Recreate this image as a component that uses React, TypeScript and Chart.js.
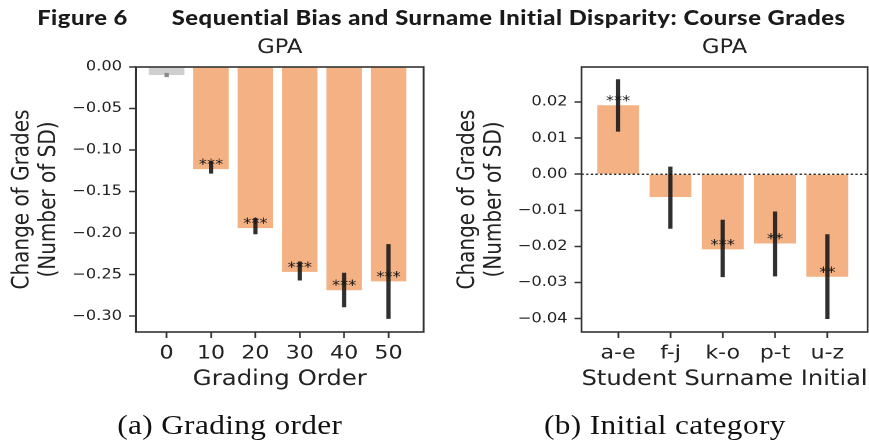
import React, { useEffect, useRef } from 'react';
import { Chart, registerables } from 'chart.js';

Chart.register(...registerables);

// ---------- data ----------
const orderCategories = [0, 10, 20, 30, 40, 50];
const orderValues = [-0.0096, -0.123, -0.194, -0.2466, -0.2687, -0.258];
const orderErrLow = [-0.0118, -0.128, -0.201, -0.2566, -0.2888, -0.3028];
const orderErrHigh = [-0.0075, -0.114, -0.182, -0.2345, -0.248, -0.2136];
const orderStars = ['', '***', '***', '***', '***', '***'];
const orderYTicks = [0, -0.05, -0.1, -0.15, -0.2, -0.25, -0.3];

const initialCategories = ['a-e', 'f-j', 'k-o', 'p-t', 'u-z'];
const initialPositions = [0, 1, 2, 3, 4];
const initialValues = [0.0191, -0.0063, -0.0208, -0.0192, -0.0284];
const initialErrLow = [0.0119, -0.015, -0.0284, -0.0282, -0.04];
const initialErrHigh = [0.0262, 0.002, -0.0127, -0.0104, -0.0167];
const initialStars = ['***', '', '***', '**', '**'];
const initialYTicks = [0.02, 0.01, 0, -0.01, -0.02, -0.03, -0.04];

// ---------- styling ----------
const SCALE_X = 869 / 749;
const ORANGE = '#F4B183';
const GRAY = '#CFCFCF';
const ERR = 'rgba(25,25,25,0.9)';
const ERR_LIGHT = '#8a8a8a';
const INK = '#222222';
const FONT = '"DejaVu Sans", sans-serif';

const fmt = (v: number) => (Math.abs(v) < 1e-9 ? '0.00' : (v < 0 ? '\u2212' : '') + Math.abs(v).toFixed(2));

const decorPlugin = {
  id: 'decor',
  afterDatasetsDraw(chart: any, _args: any, opts: any) {
    const { ctx, chartArea: a, scales } = chart;
    ctx.save();
    if (opts.zeroLine) {
      const y = scales.y.getPixelForValue(0);
      ctx.setLineDash([2, 2]);
      ctx.strokeStyle = '#111';
      ctx.lineWidth = 1.3;
      ctx.beginPath();
      ctx.moveTo(a.left, y);
      ctx.lineTo(a.right, y);
      ctx.stroke();
      ctx.setLineDash([]);
    }
    const meta = chart.getDatasetMeta(0);
    ctx.font = `14px ${FONT}`;
    ctx.textAlign = 'center';
    ctx.textBaseline = 'alphabetic';
    ctx.fillStyle = '#1a1a1a';
    (opts.stars as string[]).forEach((s, i) => {
      if (!s) return;
      const el = meta.data[i];
      ctx.fillText(s, el.x, el.y);
    });
    ctx.strokeStyle = '#333';
    ctx.lineWidth = 1.6;
    ctx.strokeRect(a.left, a.top, a.right - a.left, a.bottom - a.top);
    ctx.font = `19.5px ${FONT}`;
    ctx.fillStyle = INK;
    ctx.textBaseline = 'middle';
    ctx.fillText(opts.title, (a.left + a.right) / 2, 48);
    ctx.restore();
  },
};

function makeConfig(p: {
  xs: number[];
  values: number[];
  low: number[];
  high: number[];
  colors: string[];
  errColors: string[];
  xMin: number;
  xMax: number;
  xLabel: (v: number) => string;
  yMin: number;
  yMax: number;
  yTicks: number[];
  xTitle: string;
  stars: string[];
  zeroLine: boolean;
  padRight: number;
}): any {
  return {
    type: 'bar',
    data: {
      datasets: [
        {
          data: p.xs.map((x, i) => ({ x, y: p.values[i] })),
          backgroundColor: p.colors,
          borderWidth: 0,
          grouped: false,
          categoryPercentage: 1,
          barPercentage: 0.8,
          order: 1,
        },
        {
          data: p.xs.map((x, i) => ({ x, y: [p.low[i], p.high[i]] })),
          backgroundColor: p.errColors,
          borderWidth: 0,
          grouped: false,
          barThickness: 3,
          order: 0,
        },
      ],
    },
    options: {
      animation: false,
      responsive: true,
      maintainAspectRatio: false,
      devicePixelRatio: 2,
      layout: { padding: { top: 67, left: 0, right: p.padRight, bottom: 0 } },
      plugins: {
        legend: { display: false },
        tooltip: { enabled: false },
        title: { display: false },
        decor: { stars: p.stars, zeroLine: p.zeroLine, title: 'GPA' },
      },
      scales: {
        x: {
          type: 'linear',
          min: p.xMin,
          max: p.xMax,
          offset: false,
          afterBuildTicks: (s: any) => {
            s.ticks = p.xs.map((v) => ({ value: v }));
          },
          afterFit: (s: any) => {
            s.height = 68;
          },
          ticks: {
            callback: (v: number) => p.xLabel(v),
            font: { family: FONT, size: 19 },
            color: INK,
            padding: 4,
            maxRotation: 0,
            autoSkip: false,
          },
          grid: { offset: false, drawOnChartArea: false, tickLength: 6, tickColor: '#333', tickWidth: 1.5 },
          border: { display: false },
          title: {
            display: true,
            text: p.xTitle,
            font: { family: FONT, size: 21 },
            color: INK,
            padding: { top: 0, bottom: 8 },
          },
        },
        y: {
          min: p.yMin,
          max: p.yMax,
          afterBuildTicks: (s: any) => {
            s.ticks = p.yTicks.map((v) => ({ value: v }));
          },
          afterFit: (s: any) => {
            s.width = 117.2;
          },
          ticks: {
            callback: (v: number) => fmt(v),
            font: { family: FONT, size: 14 },
            color: INK,
            padding: 6,
          },
          grid: { drawOnChartArea: false, tickLength: 6, tickColor: '#333', tickWidth: 1.5 },
          border: { display: false },
          title: {
            display: true,
            text: ['Change of Grades', '(Number of SD)'],
            font: { family: FONT, size: 20, lineHeight: 1.15 },
            color: INK,
            padding: { top: 8, bottom: 0 },
          },
        },
      },
    },
    plugins: [decorPlugin],
  };
}

const headingStyle: React.CSSProperties = {
  position: 'absolute',
  top: 5,
  font: '900 20.5px Lato, sans-serif',
  letterSpacing: '0.45px',
  lineHeight: '24px',
  color: '#1a1a1a',
  whiteSpace: 'nowrap',
};

const captionStyle: React.CSSProperties = {
  position: 'absolute',
  top: 410,
  width: 300,
  textAlign: 'center',
  font: '27px "Liberation Serif", serif',
  letterSpacing: '0.3px',
  lineHeight: '30px',
  color: '#111',
  whiteSpace: 'nowrap',
};

export default function App() {
  const c1 = useRef<HTMLCanvasElement>(null);
  const c2 = useRef<HTMLCanvasElement>(null);

  useEffect(() => {
    const ch1 = new Chart(
      c1.current as HTMLCanvasElement,
      makeConfig({
        xs: orderCategories,
        values: orderValues,
        low: orderErrLow,
        high: orderErrHigh,
        colors: orderCategories.map((_, i) => (i === 0 ? GRAY : ORANGE)),
        errColors: orderCategories.map((_, i) => (i === 0 ? ERR_LIGHT : ERR)),
        xMin: -6.9,
        xMax: 57.9,
        xLabel: (v) => String(v),
        yMin: -0.319,
        yMax: 0,
        yTicks: orderYTicks,
        xTitle: 'Grading Order',
        stars: orderStars,
        zeroLine: false,
        padRight: 14.9,
      })
    );
    const ch2 = new Chart(
      c2.current as HTMLCanvasElement,
      makeConfig({
        xs: initialPositions,
        values: initialValues,
        low: initialErrLow,
        high: initialErrHigh,
        colors: initialPositions.map(() => ORANGE),
        errColors: initialPositions.map(() => ERR),
        xMin: -0.7,
        xMax: 4.77,
        xLabel: (v) => initialCategories[Math.round(v)] ?? '',
        yMin: -0.0437,
        yMax: 0.0297,
        yTicks: initialYTicks,
        xTitle: 'Student Surname Initial',
        stars: initialStars,
        zeroLine: true,
        padRight: 1.2,
      })
    );
    return () => {
      ch1.destroy();
      ch2.destroy();
    };
  }, []);

  return (
    <div
      style={{
        position: 'fixed',
        left: 0,
        top: 0,
        width: 869,
        height: 441,
        overflow: 'hidden',
        background: '#fff',
      }}
    >
      <div
        style={{
          position: 'absolute',
          left: 0,
          top: 0,
          width: 749,
          height: 441,
          transform: `scaleX(${SCALE_X})`,
          transformOrigin: '0 0',
        }}
      >
        <div style={{ ...headingStyle, left: 32 }}>Figure 6</div>
        <div style={{ ...headingStyle, left: 148 }}>
          Sequential Bias and Surname Initial Disparity: Course Grades
        </div>
        <div style={{ position: 'absolute', left: 0, top: 0, width: 380, height: 400 }}>
          <canvas ref={c1} />
        </div>
        <div style={{ position: 'absolute', left: 384, top: 0, width: 365, height: 400 }}>
          <canvas ref={c2} />
        </div>
        <div style={{ ...captionStyle, left: 198 - 150 }}>(a) Grading order</div>
        <div style={{ ...captionStyle, left: 573 - 150 }}>(b) Initial category</div>
      </div>
    </div>
  );
}
